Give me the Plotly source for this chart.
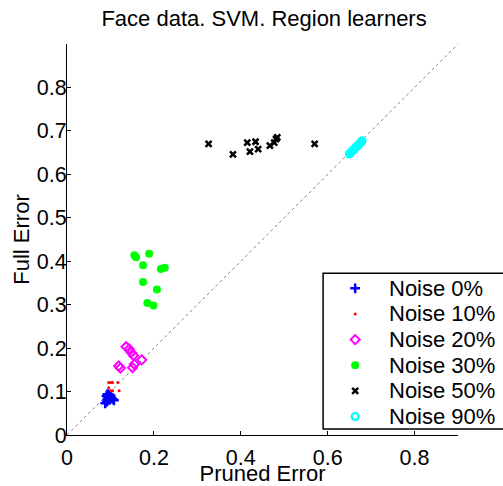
import plotly.graph_objects as go

# ---- data ----
noise0_x = [0.093, 0.097, 0.091, 0.099, 0.095, 0.102, 0.097, 0.105, 0.108, 0.093, 0.088, 0.092, 0.100, 0.094, 0.098]
noise0_y = [0.094, 0.093, 0.090, 0.089, 0.087, 0.086, 0.084, 0.083, 0.080, 0.082, 0.073, 0.077, 0.091, 0.089, 0.081]

noise10_x = [0.096, 0.101, 0.105, 0.117, 0.096, 0.101, 0.105, 0.120]
noise10_y = [0.121, 0.121, 0.121, 0.121, 0.109, 0.102, 0.102, 0.102]

noise20_x = [0.136, 0.143, 0.148, 0.153, 0.172, 0.155, 0.151, 0.119, 0.123]
noise20_y = [0.203, 0.198, 0.190, 0.183, 0.173, 0.163, 0.155, 0.159, 0.154]

noise30_x = [0.155, 0.159, 0.189, 0.175, 0.216, 0.225, 0.175, 0.207, 0.185, 0.199]
noise30_y = [0.414, 0.409, 0.417, 0.391, 0.382, 0.385, 0.352, 0.335, 0.304, 0.298]

noise50_x = [0.326, 0.382, 0.415, 0.421, 0.434, 0.440, 0.467, 0.477, 0.481, 0.484, 0.570]
noise50_y = [0.670, 0.646, 0.673, 0.652, 0.675, 0.658, 0.666, 0.673, 0.681, 0.685, 0.670]

noise90_x = [0.650, 0.653, 0.656, 0.658, 0.661, 0.664, 0.667, 0.670, 0.673, 0.676, 0.679]
noise90_y = [0.647, 0.650, 0.653, 0.655, 0.658, 0.661, 0.664, 0.667, 0.670, 0.674, 0.677]

series_names = ["Noise 0%", "Noise 10%", "Noise 20%", "Noise 30%", "Noise 50%", "Noise 90%"]

diag = [0, 0.9]

x_ticks = [0, 0.2, 0.4, 0.6, 0.8]
x_tick_text = ["0", "0.2", "0.4", "0.6", "0.8"]
y_ticks = [0, 0.1, 0.2, 0.3, 0.4, 0.5, 0.6, 0.7, 0.8]
y_tick_text = ["0", "0.1", "0.2", "0.3", "0.4", "0.5", "0.6", "0.7", "0.8"]

FONT = "Liberation Sans, Arial, Helvetica, sans-serif"
AX_MAX = 0.9

markers = [
    dict(symbol="cross-thin", size=7, color="blue", line=dict(color="blue", width=2.5)),
    dict(symbol="circle", size=3, color="red", line=dict(width=0)),
    dict(symbol="diamond-open", size=7, color="magenta", line=dict(color="magenta", width=2)),
    dict(symbol="circle", size=8, color="#00ff00", line=dict(width=0)),
    dict(symbol="x-thin", size=6, color="black", line=dict(color="black", width=2.5)),
    dict(symbol="circle-open", size=7, color="cyan", line=dict(color="cyan", width=2.2)),
]
xs = [noise0_x, noise10_x, noise20_x, noise30_x, noise50_x, noise90_x]
ys = [noise0_y, noise10_y, noise20_y, noise30_y, noise50_y, noise90_y]

fig = go.Figure()

fig.add_trace(go.Scatter(x=diag, y=diag, mode="lines", showlegend=False,
                         line=dict(color="#888888", width=1, dash="dot"), hoverinfo="skip"))

for name, x, y, mk in zip(series_names, xs, ys, markers):
    fig.add_trace(go.Scatter(x=x, y=y, mode="markers", name=name, marker=mk, showlegend=False))

# ---- legend box (MATLAB style; its right side runs off the window) ----
leg_left, leg_top, leg_bottom, leg_right = 0.655, 0.414, 0.0153, 1.3
row_top, row_step = 0.3752, 0.0656          # paper fractions of row centres
marker_x, text_x = 0.737, 0.818              # paper fractions

fig.add_shape(type="path", xref="paper", yref="paper",
              path=f"M {leg_right},{leg_top} L {leg_left},{leg_top} "
                   f"L {leg_left},{leg_bottom} L {leg_right},{leg_bottom}",
              line=dict(color="black", width=1.5), fillcolor="white", layer="below")

for i, (name, mk) in enumerate(zip(series_names, markers)):
    py = row_top - i * row_step
    fig.add_trace(go.Scatter(x=[marker_x * AX_MAX], y=[py * AX_MAX], mode="markers",
                             marker=mk, showlegend=False, cliponaxis=False, hoverinfo="skip"))
    fig.add_annotation(x=text_x, y=py, xref="paper", yref="paper", text=name,
                       showarrow=False, xanchor="left", yanchor="middle",
                       font=dict(family=FONT, size=22, color="black"))

axis_common = dict(range=[0, AX_MAX], showgrid=False, zeroline=False, showline=True,
                   linecolor="black", linewidth=1, ticks="inside", ticklen=4,
                   tickcolor="black", tickwidth=1, mirror=False,
                   tickfont=dict(family=FONT, size=21.5, color="black"))

fig.update_layout(
    width=503, height=486,
    margin=dict(l=67, r=45, t=44, b=51, autoexpand=False),
    paper_bgcolor="white", plot_bgcolor="white",
    font=dict(family=FONT, size=21.5, color="black"),
    title=dict(text="Face data. SVM. Region learners", x=0.525, xanchor="center",
               y=0.963, yanchor="middle", font=dict(family=FONT, size=22, color="black")),
    xaxis=dict(**axis_common, tickvals=x_ticks, ticktext=x_tick_text, ticklabelstandoff=3,
               title=dict(text="Pruned Error", standoff=0, font=dict(family=FONT, size=22))),
    yaxis=dict(**axis_common, tickvals=y_ticks, ticktext=y_tick_text, ticklabelstandoff=-5,
               title=dict(text="Full Error", standoff=1, font=dict(family=FONT, size=22))),
    showlegend=False,
)

# remove the browser's default 8px body margin so the figure fills the window exactly
fig.write_html("out.html", config={"displayModeBar": False},
               post_script="document.body.style.margin='0px';")
